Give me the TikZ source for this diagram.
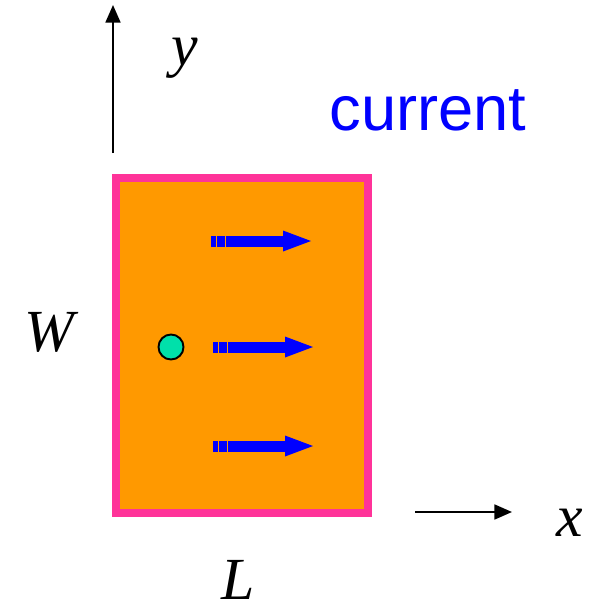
\documentclass[tikz,border=0pt]{standalone}
\usepackage{fontspec}
\setmainfont{Liberation Serif}
\setsansfont{Liberation Sans}
\usepackage{xcolor}
\usepackage{tikz}
\usetikzlibrary{arrows.meta, positioning}

\definecolor{slab}{RGB}{255,153,0}
\definecolor{rim}{RGB}{255,51,153}
\definecolor{probe}{RGB}{0,224,170}
\definecolor{flow}{RGB}{0,0,255}

\tikzset{
	axis/.style={line width=1.1pt, -{Triangle[length=10pt,width=8.5pt]}},
	lbl/.style={font=\fontsize{34}{38}\selectfont\itshape, inner sep=0pt}
}

\begin{document}
\begin{tikzpicture}[x=0.02cm, y=-0.02cm]
		\useasboundingbox (0,0) rectangle (597,605);
		% sample
		\draw[fill=slab, draw=rim, line width=4.5pt] (116,178) rectangle (368,513);
		% axes
		\coordinate (yfoot) at (113,153);
		\coordinate (ytip) at (113,5);
		\coordinate (xfoot) at (415,512);
		\coordinate (xtip) at (512,512);
		\draw[axis] (yfoot) -- (ytip);
		\draw[axis] (xfoot) -- (xtip);
		\node[lbl] (ylab) at (185,58) {y};
		\node[lbl] (xlab) at (570,523) {x};
		\node[lbl] (wlab) at (49,332) {W};
		\node[lbl] (llab) at (238,580) {L};
		\node[text=flow, font=\sffamily\fontsize{36}{40}\selectfont, inner sep=0pt] (curlab) at (428,110) {current};
		% current arrows
		\foreach \xs/\yy in {211/241, 213/347, 213/446} {
			\fill[flow] (\xs,\yy-5.5) rectangle ++(4.7,11);
			\fill[flow] (\xs+5.7,\yy-5.5) rectangle ++(8.3,11);
			\fill[flow] (\xs+15.3,\yy-5.5) rectangle (\xs+75,\yy+5.5);
			\fill[flow] (\xs+72,\yy-10.5) -- (\xs+100,\yy) -- (\xs+72,\yy+10.5) -- cycle;
		}
		% probe
		\node[circle, draw=black, line width=1.1pt, fill=probe, inner sep=0pt, minimum size=0.5cm] (dot) at (171,347) {};
	\end{tikzpicture}
\end{document}
